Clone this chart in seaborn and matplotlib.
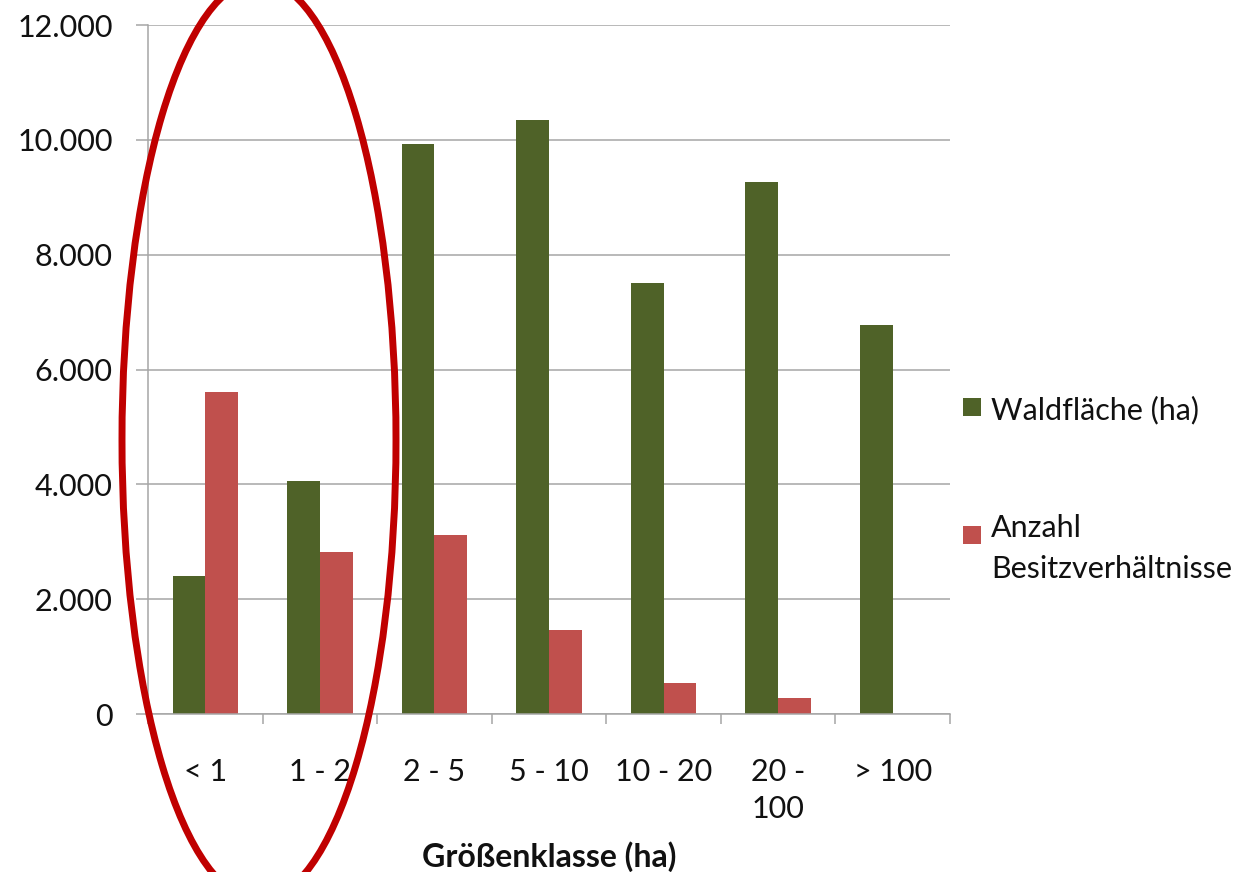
import pandas as pd
import matplotlib
matplotlib.use("Agg")
import matplotlib.pyplot as plt
import seaborn as sns
from matplotlib.patches import Ellipse, Rectangle
from matplotlib.ticker import FuncFormatter, FixedLocator

# Daten
klassen = ["< 1", "1 - 2", "2 - 5", "5 - 10", "10 - 20", "20 -\n100", "> 100"]
waldflaeche = [2400, 4050, 9920, 10350, 7510, 9270, 6770]
anzahl = [5610, 2830, 3120, 1470, 540, 280, 0]

serie_wald = "Waldfläche (ha)"
serie_anzahl = "Anzahl\nBesitzverhältnisse"

df = pd.DataFrame({
    "Klasse": klassen * 2,
    "Wert": waldflaeche + anzahl,
    "Serie": [serie_wald] * len(klassen) + [serie_anzahl] * len(klassen),
})

gruen = "#4F6228"
rot = "#C0504D"
grau = "#A6A6A6"

sns.set_theme(style="white")
plt.rcParams["font.family"] = ["Lato", "DejaVu Sans"]

W, H = 1247, 872
fig = plt.figure(figsize=(W / 100, H / 100), dpi=100)
ax = fig.add_axes([148 / W, 1 - 714 / H, (950 - 148) / W, (714 - 25) / H])

sns.barplot(data=df, x="Klasse", y="Wert", hue="Serie", order=klassen,
            palette=[gruen, rot], width=0.57, ax=ax, legend=False,
            saturation=1, edgecolor="none")

ax.set_ylim(0, 12000)
ax.set_xlim(-0.5, len(klassen) - 0.5)
ax.set_yticks(range(0, 12001, 2000))
ax.yaxis.set_major_formatter(FuncFormatter(lambda v, p: f"{int(v):,}".replace(",", ".")))
ax.yaxis.grid(True, color=grau, linewidth=1.1)
ax.set_axisbelow(True)

for s in ["top", "right"]:
    ax.spines[s].set_visible(False)
for s in ["left", "bottom"]:
    ax.spines[s].set_color(grau)
    ax.spines[s].set_linewidth(1.1)

ax.tick_params(axis="y", which="major", length=8.5, width=1.1, color=grau,
               labelsize=22, labelcolor="#111111", pad=17, left=True)
ax.tick_params(axis="x", which="major", length=0, labelsize=22,
               labelcolor="#111111", pad=32)
ax.xaxis.set_minor_locator(FixedLocator([i + 0.5 for i in range(-1, len(klassen))]))
ax.tick_params(axis="x", which="minor", length=7.5, width=1.1, color=grau, bottom=True)
for lab in ax.get_xticklabels():
    lab.set_linespacing(1.38)

ax.set_ylabel("")
ax.set_xlabel("Größenklasse (ha)", fontsize=23, fontweight="bold", color="#111111")
ax.xaxis.set_label_coords(0.5, -0.2075)
ax.xaxis.label.set_va("center")

# Legende (Quadrat auf Höhe der ersten Textzeile, wie im Original)
for farbe, text, y_sq, y_top in [(gruen, serie_wald, 398, 396),
                                 (rot, serie_anzahl, 526, 514)]:
    fig.add_artist(Rectangle((963 / W, 1 - (y_sq + 18) / H), 18 / W, 18 / H,
                             transform=fig.transFigure, facecolor=farbe,
                             edgecolor="none"))
    fig.text(991 / W, 1 - y_top / H, text, fontsize=22, color="#111111",
             ha="left", va="top", linespacing=1.55)

# roter Kreis um die kleinen Größenklassen
fig.add_artist(Ellipse((259 / W, 1 - 440 / H), 274 / W, 920 / H,
                       transform=fig.transFigure, fill=False,
                       edgecolor="#C00000", linewidth=5, zorder=10, clip_on=False))

fig.savefig("out.png", dpi=100)
